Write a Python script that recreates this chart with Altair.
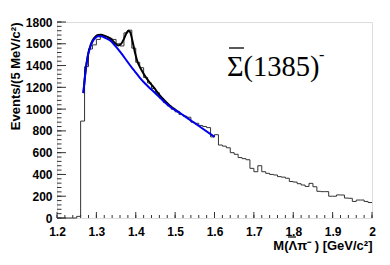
import altair as alt
import pandas as pd

# ---- data ----
bin_lo = [round(1.20 + 0.01 * i, 2) for i in range(80)]
counts = [0, 0, 0, 0, 0, 15, 890, 1390, 1552, 1590,
          1640, 1675, 1665, 1650, 1640, 1600, 1580, 1700, 1725, 1560,
          1430, 1380, 1290, 1240, 1190, 1150, 1100, 1060, 1030, 1000,
          975, 950, 935, 925, 880, 870, 850, 840, 830, 745,
          765, 670, 660, 645, 600, 585, 555, 545, 535, 456,
          425, 480, 425, 410, 400, 395, 380, 375, 365, 335,
          330, 315, 303, 290, 318, 287, 245, 242, 242, 200,
          200, 212, 211, 183, 181, 152, 165, 165, 152, 142]

bg_m = [1.267, 1.272, 1.279, 1.285, 1.291, 1.298, 1.304, 1.312, 1.322, 1.335,
        1.348, 1.36, 1.373, 1.385, 1.398, 1.41, 1.425, 1.441, 1.46, 1.487,
        1.512, 1.533, 1.563, 1.6]
bg_v = [1147, 1330, 1500, 1575, 1625, 1655, 1668, 1668, 1655, 1630,
        1580, 1527, 1465, 1405, 1345, 1290, 1230, 1175, 1110, 1022,
        965, 913, 838, 745]

tot_m = [1.267, 1.272, 1.279, 1.285, 1.291, 1.298, 1.304, 1.312, 1.322, 1.335,
         1.345, 1.355, 1.362, 1.37, 1.376, 1.381, 1.386, 1.392, 1.398, 1.404,
         1.41, 1.42, 1.43, 1.44, 1.45, 1.46, 1.47, 1.487, 1.512]
tot_v = [1147, 1335, 1505, 1585, 1635, 1668, 1680, 1682, 1672, 1650,
         1615, 1585, 1595, 1645, 1695, 1720, 1705, 1620, 1520, 1440,
         1390, 1325, 1270, 1225, 1180, 1130, 1090, 1030, 966]

x_major = [1.2, 1.3, 1.4, 1.5, 1.6, 1.7, 1.8, 1.9, 2.0]
x_minor = [round(1.2 + 0.02 * i, 2) for i in range(41)]
y_major = [0, 200, 400, 600, 800, 1000, 1200, 1400, 1600, 1800]
y_minor = [40 * i for i in range(46)]

W, H = 315, 196

hist = pd.DataFrame({"m": bin_lo + [2.0], "n": counts + [counts[-1]]})
bg = pd.DataFrame({"m": bg_m, "n": bg_v})
tot = pd.DataFrame({"m": tot_m, "n": tot_v})

xs = alt.Scale(domain=[1.2, 2.0], nice=False, zero=False)
ys = alt.Scale(domain=[0, 1800], nice=False)

FONT = "Liberation Sans"
XT = "M(\u039b\u03c0\u207b ) [GeV/c\u00b2]"
YT = "Events/(5 MeV/c\u00b2)"

xaxis = alt.Axis(values=x_major, format="~g", ticks=False, domain=False, grid=False,
                 labelFont=FONT, labelFontWeight="bold", labelFontSize=12, labelColor="black",
                 labelPadding=8, labelFlush=False,
                 title=XT, titleFont=FONT,
                 titleFontWeight="bold", titleFontSize=13, titleColor="black",
                 titleAnchor="end", titleAlign="right", titleX=W, titleY=31,
                 titleBaseline="alphabetic")
yaxis = alt.Axis(values=y_major, format="d", ticks=False, domain=False, grid=False,
                 labelFont=FONT, labelFontWeight="bold", labelFontSize=12, labelColor="black",
                 labelPadding=5, labelFlush=False,
                 title=YT, titleFont=FONT, titleFontWeight="bold",
                 titleFontSize=13, titleColor="black", titleAngle=270, titleAlign="right",
                 titleBaseline="middle", titleX=-42, titleY=0)


def X(f):
    return alt.X(f, scale=xs, axis=xaxis, title=XT)


def Y(f):
    return alt.Y(f, scale=ys, axis=yaxis, title=YT)


h = alt.Chart(hist).mark_line(interpolate="step-after", color="#333333", strokeWidth=1).encode(
    x=X("m:Q"), y=Y("n:Q"))
ltot = alt.Chart(tot).mark_line(color="black", strokeWidth=2, interpolate="monotone").encode(
    x=X("m:Q"), y=Y("n:Q"))
lbg = alt.Chart(bg).mark_line(color="#0000ee", strokeWidth=2, interpolate="monotone").encode(
    x=X("m:Q"), y=Y("n:Q"))

ymaj = alt.Chart(pd.DataFrame({"n": y_major})).mark_rule(color="#333333").encode(
    y=Y("n:Q"), x=alt.value(0), x2=alt.value(9))
ymin = alt.Chart(pd.DataFrame({"n": y_minor})).mark_rule(color="#333333").encode(
    y=Y("n:Q"), x=alt.value(0), x2=alt.value(4.5))
xmaj = alt.Chart(pd.DataFrame({"m": x_major})).mark_rule(color="#333333").encode(
    x=X("m:Q"), y=alt.value(H), y2=alt.value(H - 6))
xmin = alt.Chart(pd.DataFrame({"m": x_minor})).mark_rule(color="#333333").encode(
    x=X("m:Q"), y=alt.value(H), y2=alt.value(H - 3))

label = alt.Chart(pd.DataFrame({"t": ["\u03a3(1385)"]})).mark_text(
    font="Liberation Serif", fontSize=28.5, align="left", baseline="alphabetic", color="black"
).encode(text="t:N", x=alt.value(170), y=alt.value(54))
bar = alt.Chart(pd.DataFrame({"t": [0]})).mark_rule(color="black", strokeWidth=1.3).encode(
    x=alt.value(172), x2=alt.value(187), y=alt.value(26))
sup = alt.Chart(pd.DataFrame({"t": ["-"]})).mark_text(
    font="Liberation Serif", fontSize=16, align="left", baseline="alphabetic", color="black"
).encode(text="t:N", x=alt.value(262), y=alt.value(38))
lbar = alt.Chart(pd.DataFrame({"t": [0]})).mark_rule(color="black", strokeWidth=1.2).encode(
    x=alt.value(231), x2=alt.value(239), y=alt.value(H + 19))

chart = alt.layer(h, ltot, lbg, ymin, ymaj, xmin, xmaj, label, bar, sup, lbar).properties(
    width=W, height=H,
    autosize=alt.AutoSizeParams(type="none"),
    padding={"left": 49, "top": 14, "right": 10, "bottom": 40},
).configure_view(stroke="#222222", strokeWidth=1).configure(background="white")

chart.save("out.html", embed_options={"renderer": "svg", "actions": False})
